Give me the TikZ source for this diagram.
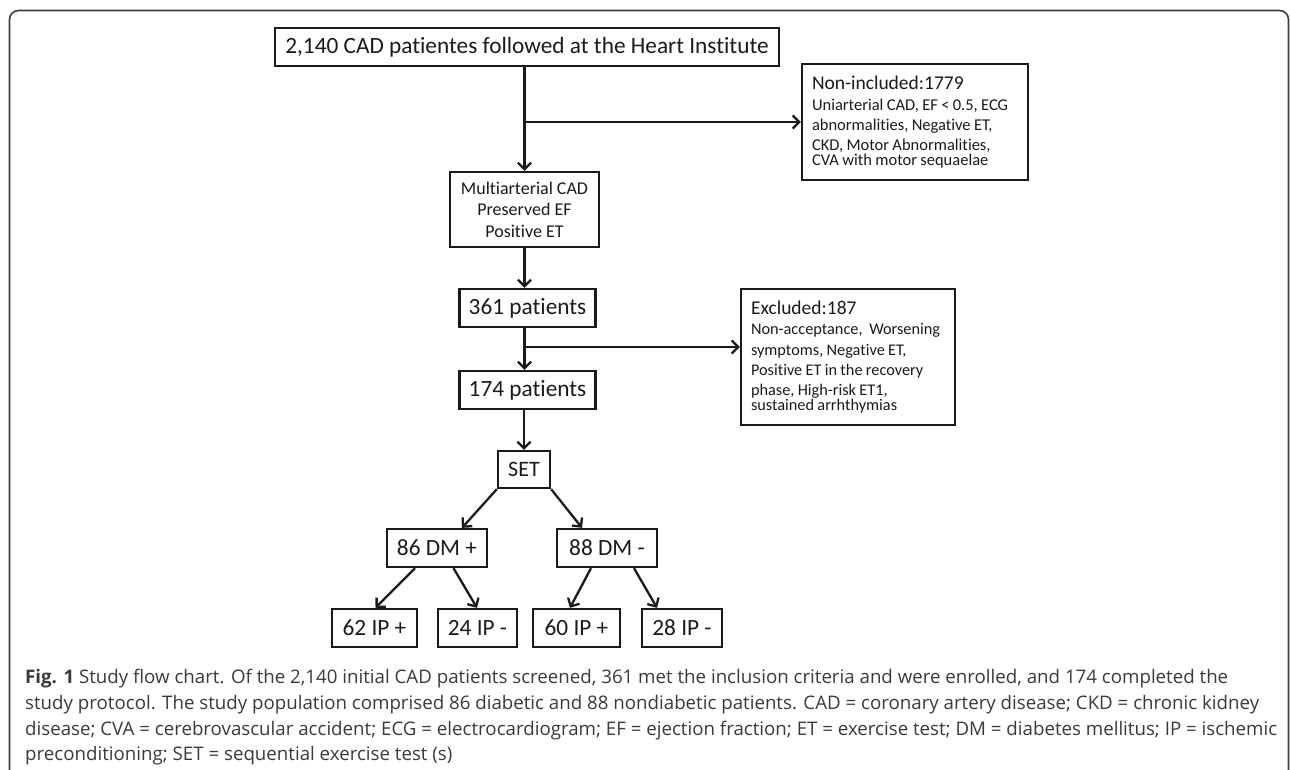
\documentclass[tikz,border=0pt]{standalone}
\usepackage{fontspec}
\setmainfont{Carlito}[RawFeature={-liga;-clig;-calt;-dlig}]
\newfontfamily\capfont{Open Sans}
\usetikzlibrary{arrows.meta}
\definecolor{ink}{HTML}{1A1A1A}
\definecolor{capink}{HTML}{3A3A3A}
\definecolor{framec}{HTML}{3C3C3C}
\tikzset{
  box/.style={draw=ink, line width=2.3pt, inner sep=0pt, text=ink, align=center},
  bigtxt/.style={font=\fontsize{23.3}{27}\selectfont},
  midtxt/.style={font=\fontsize{18}{21.5}\selectfont},
  infobox/.style={draw=ink, line width=2.3pt, inner xsep=10pt, inner ysep=0pt, text=ink, align=left},
  arr/.style={draw=ink, line width=2.3pt, -{Straight Barb[length=6.5pt,width=13pt,line width=2.3pt]}},
  capline/.style={anchor=base west, inner sep=0pt, text=capink, font=\capfont\fontsize{18.7}{22}\selectfont}
}
\begin{document}
\begin{tikzpicture}[x=1pt,y=-1pt]
\useasboundingbox (0,0) rectangle (1290,769);
\clip (0,0) rectangle (1290,769);
% frame
\draw[framec, line width=1.6pt, rounded corners=9pt] (9.5,800) -- (9.5,10.5) -- (1288.5,10.5) -- (1288.5,800);

% main column
\node[box,bigtxt,minimum width=504pt,minimum height=38pt] (top) at (527,47) {2,140 CAD patientes followed at the Heart Institute};
\node[box,midtxt,minimum width=149pt,minimum height=75pt] (multi) at (524.5,209.5) {Multiarterial CAD\\Preserved EF\\Positive ET};
\node[box,bigtxt,minimum width=136pt,minimum height=38pt] (p361) at (527.5,308) {361 patients};
\node[box,bigtxt,minimum width=136pt,minimum height=38pt] (p174) at (527.5,390) {174 patients};
\node[box,font=\fontsize{22}{25}\selectfont,minimum width=52pt,minimum height=37pt] (set) at (524,469.5) {SET};
\node[box,bigtxt,minimum width=100pt,minimum height=38pt] (dmp) at (437,548) {86 DM +};
\node[box,bigtxt,minimum width=100pt,minimum height=38pt] (dmm) at (607,548) {88 DM -};
\node[box,bigtxt,minimum width=85pt,minimum height=38pt] (ipa) at (374.5,628) {62 IP +};
\node[box,bigtxt,minimum width=79pt,minimum height=38pt] (ipb) at (477.5,628) {24 IP -};
\node[box,bigtxt,minimum width=87pt,minimum height=38pt] (ipc) at (576.5,628) {60 IP +};
\node[box,bigtxt,minimum width=80pt,minimum height=38pt] (ipd) at (682,628) {28 IP -};

% side boxes
\node[infobox,text width=206pt,minimum height=116pt] (noninc) at (915,122)
  {{\fontsize{19.5}{21}\selectfont Non-included:1779}\\[0.5pt]
   \fontsize{16.5}{20.3}\selectfont Uniarterial CAD, EF < 0.5, ECG\\abnormalities, Negative ET,\\CKD, Motor Abnormalities,\\CVA with motor sequaelae};
\node[infobox,text width=194pt,minimum height=136pt] (excl) at (848,357)
  {{\fontsize{19.5}{21}\selectfont Excluded:187}\\[0.5pt]
   \fontsize{16.3}{20.3}\selectfont Non-acceptance, \ Worsening\\symptoms, Negative ET,\\Positive ET in the recovery\\phase, High-risk ET1,\\sustained arrhthymias};

% connectors
\draw[arr] (top.south -| multi.north) -- (multi.north);
\draw[arr] (multi.north |- noninc.west) -- (noninc.west);
\draw[arr] (multi.south) -- (multi.south |- p361.north);
\coordinate (b2) at (524.5,347);
\draw[arr] (p361.south -| multi.south) -- (p174.north -| multi.south);
\draw[arr] (b2) -- (b2 -| excl.west);
\draw[arr] (p174.south -| set.north) -- (set.north);
\draw[arr] (set.south west) -- ([xshift=25pt]dmp.north);
\draw[arr] (set.south east) -- ([xshift=-25pt]dmm.north);
\draw[arr] ([xshift=-22pt]dmp.south) -- ([xshift=1pt]ipa.north);
\draw[arr] ([xshift=16.5pt]dmp.south) -- ([xshift=-0.5pt]ipb.north);
\draw[arr] ([xshift=-16pt]dmm.south) -- ([xshift=-6.5pt]ipc.north);
\draw[arr] ([xshift=27pt]dmm.south) -- ([xshift=-25pt]ipd.north);

% caption
\node[capline] (c1) at (25,683) {\textbf{Fig. 1} Study flow chart. Of the 2,140 initial CAD patients screened, 361 met the inclusion criteria and were enrolled, and 174 completed the};
\node[capline] (c2) at (25,709) {study protocol. The study population comprised 86 diabetic and 88 nondiabetic patients. CAD = coronary artery disease; CKD = chronic kidney};
\node[capline] (c3) at (25,735) {disease; CVA = cerebrovascular accident; ECG = electrocardiogram; EF = ejection fraction; ET = exercise test; DM = diabetes mellitus; IP = ischemic};
\node[capline] (c4) at (25,760) {preconditioning; SET = sequential exercise test (s)};
\end{tikzpicture}
\end{document}
